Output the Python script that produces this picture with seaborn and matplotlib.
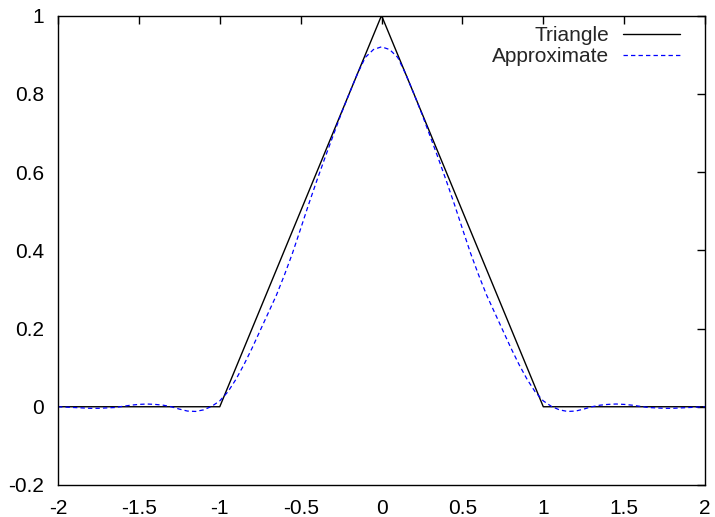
import numpy as np
import pandas as pd
import matplotlib
matplotlib.use('Agg')
import matplotlib.pyplot as plt
import seaborn as sns

# Triangle pulse corners
tri_x = [-2.0, -1.0, 0.0, 1.0, 2.0]
tri_y = [0.0, 0.0, 1.0, 0.0, 0.0]

# Approximation, read off the right half (x = 0 .. 2, step 0.05); curve is symmetric
half_x = [0.00, 0.05, 0.10, 0.15, 0.20, 0.25, 0.30, 0.35, 0.40, 0.45,
          0.50, 0.55, 0.60, 0.65, 0.70, 0.75, 0.80, 0.85, 0.90, 0.95,
          1.00, 1.05, 1.10, 1.15, 1.20, 1.25, 1.30, 1.35, 1.40, 1.45,
          1.50, 1.55, 1.60, 1.65, 1.70, 1.75, 1.80, 1.85, 1.90, 1.95, 2.00]
half_y = [0.920, 0.913, 0.893, 0.850, 0.800, 0.748, 0.692, 0.636, 0.578, 0.518,
          0.455, 0.393, 0.337, 0.285, 0.240, 0.195, 0.150, 0.108, 0.070, 0.038,
          0.015, 0.001, -0.008, -0.012, -0.011, -0.006, 0.000, 0.004, 0.006, 0.007,
          0.006, 0.004, 0.001, -0.002, -0.003, -0.004, -0.004, -0.003, -0.002, -0.001, 0.000]

approx_x = [-v for v in half_x[::-1]] + half_x[1:]
approx_y = half_y[::-1] + half_y[1:]

x_ticks = [-2, -1.5, -1, -0.5, 0, 0.5, 1, 1.5, 2]
y_ticks = [-0.2, 0, 0.2, 0.4, 0.6, 0.8, 1]

sns.set_style('white')
plt.rcParams['font.family'] = ['Liberation Sans', 'DejaVu Sans']

tri_df = pd.DataFrame({'x': tri_x, 'y': tri_y})
approx_df = pd.DataFrame({'x': approx_x, 'y': approx_y})

fig = plt.figure(figsize=(7.15, 5.17), dpi=100)
ax = fig.add_axes([0.0811, 0.0619, 0.905, 0.9081])

sns.lineplot(data=tri_df, x='x', y='y', ax=ax, color='black', linewidth=1.0,
             label='Triangle', sort=False)
sns.lineplot(data=approx_df, x='x', y='y', ax=ax, color='#0000ff', linewidth=0.9,
             label='Approximate', sort=False)
ax.lines[1].set_linestyle((0, (3.5, 2.5)))

ax.set_xlim(-2, 2)
ax.set_ylim(-0.2, 1)
ax.set_xticks(x_ticks)
ax.set_yticks(y_ticks)
ax.set_xticklabels(['-2', '-1.5', '-1', '-0.5', '0', '0.5', '1', '1.5', '2'])
ax.set_yticklabels(['-0.2', '0', '0.2', '0.4', '0.6', '0.8', '1'])
ax.set_xlabel('')
ax.set_ylabel('')

ax.tick_params(direction='in', length=6, width=1, top=True, right=True,
               labelsize=15, colors='black')
ax.tick_params(axis='x', pad=10)
ax.tick_params(axis='y', pad=10)
for s in ax.spines.values():
    s.set_color('black')
    s.set_linewidth(1)

handles, labels = ax.get_legend_handles_labels()
handles[1].set_linestyle((0, (3.5, 2.5)))
ax.legend(handles, labels, loc='upper right', frameon=False, markerfirst=False,
          fontsize=15, handlelength=2.75, handletextpad=0.65, labelspacing=0.1,
          borderaxespad=0.0, bbox_to_anchor=(0.974, 0.995))

fig.savefig('out.png', dpi=100)
